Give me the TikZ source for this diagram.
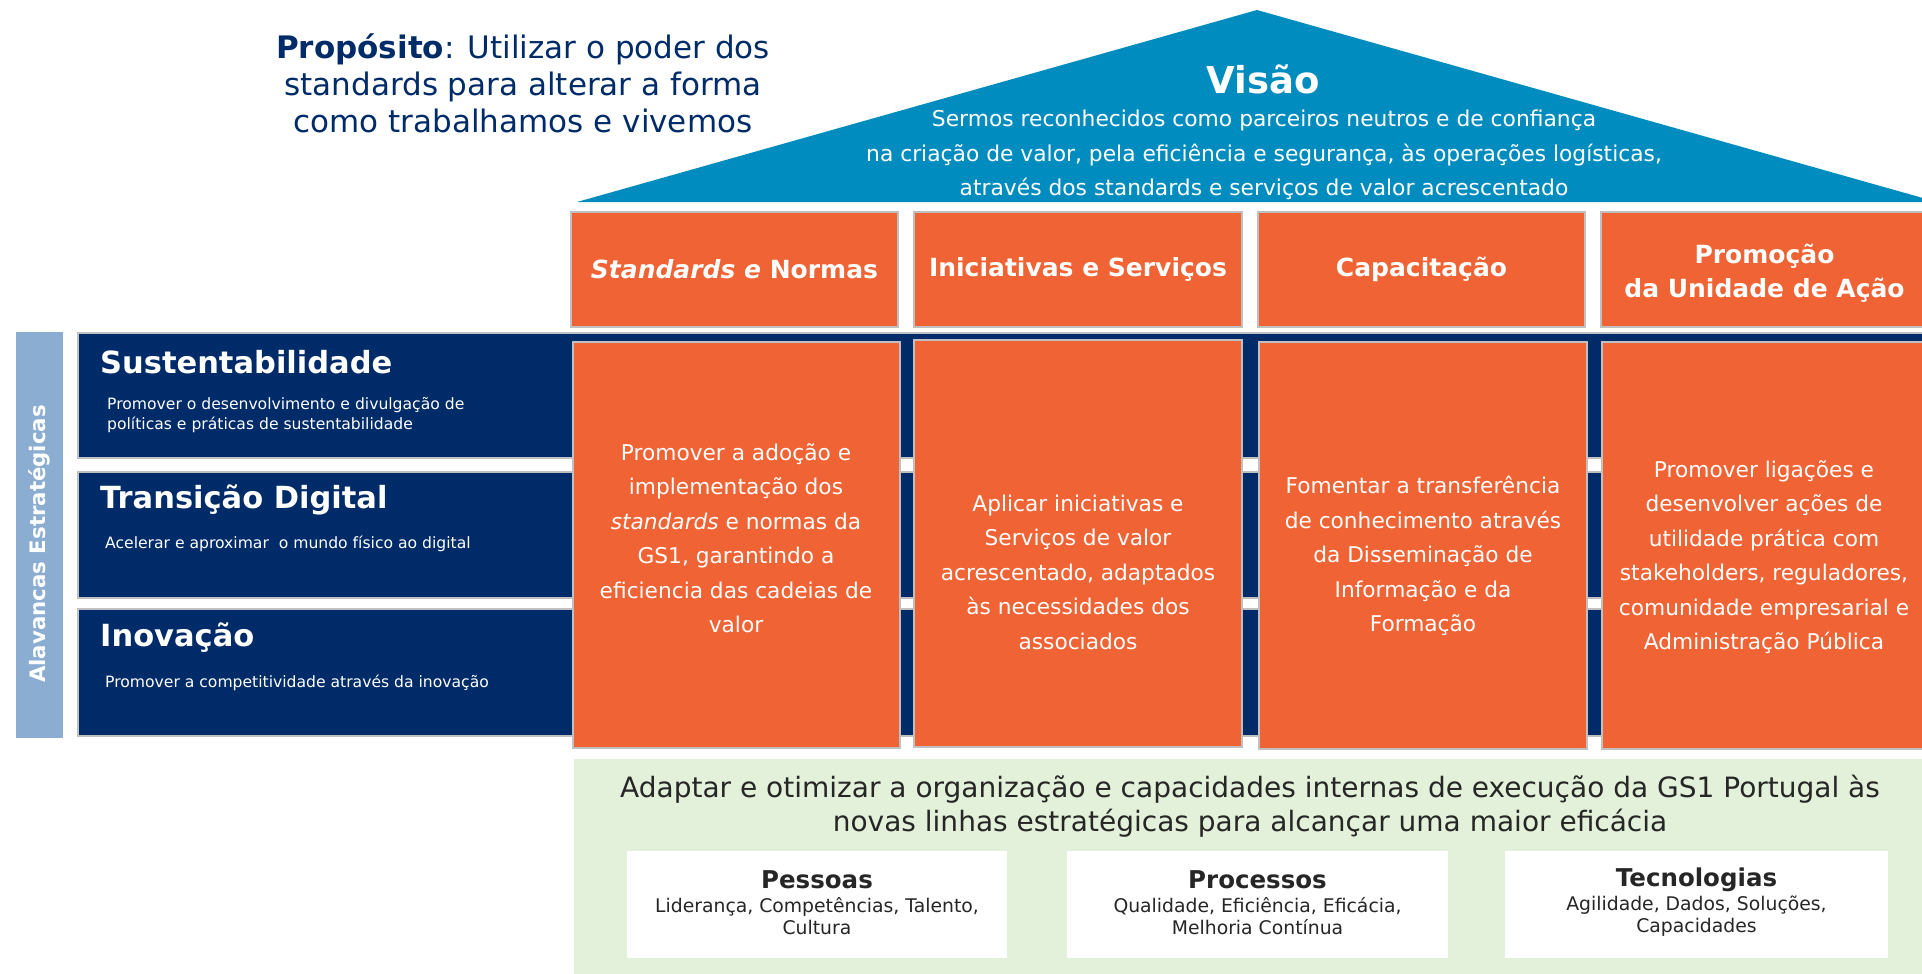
\documentclass[tikz,border=0pt]{standalone}
\usepackage{fontspec}
\setmainfont{DejaVu Sans}
\usepackage{xcolor}
\usepackage{tikz}

\definecolor{gsnavy}{RGB}{0,43,105}
\definecolor{gsorange}{RGB}{240,99,52}
\definecolor{gsblue}{RGB}{0,140,190}
\definecolor{gslight}{RGB}{139,173,210}
\definecolor{gsgreen}{RGB}{228,241,218}
\definecolor{gsedge}{RGB}{192,192,192}

\newcommand{\fsz}[2]{\fontsize{#1}{#2}\selectfont}

\begin{document}
\begin{tikzpicture}[x=1pt,y=-1pt,
    band/.style={fill=gsnavy,draw=gsedge,line width=1.5pt},
    pillar/.style={fill=gsorange,draw=gsedge,line width=1.5pt},
    card/.style={fill=white},
    lbl/.style={text=white,inner sep=0pt,align=center}]
        \useasboundingbox (0,0) rectangle (1922,974);

        % roof
        \coordinate (L) at (577,202);
        \coordinate (T) at (1257,10);
        \coordinate (R) at (1937,202);
        \fill[gsblue] (L) -- (T) -- (R) -- cycle;
        \node[lbl,font=\bfseries\fsz{37}{40}] (visao) at (1263,79) {Visão};
        \node[lbl,font=\fsz{21.8}{34.5}] (visaotxt) at (1264,155)
            {Sermos reconhecidos como parceiros neutros e de confiança\\
             na criação de valor, pela eficiência e segurança, às operações logísticas,\\
             através dos standards e serviços de valor acrescentado};

        \node[lbl,text=gsnavy,font=\fsz{31}{37}] (proposito) at (523,83)
            {{\bfseries Propósito}: Utilizar o poder dos\\
             standards para alterar a forma\\
             como trabalhamos e vivemos};

        % pilares (topo)
        \draw[pillar] (571,212) rectangle (898,327);
        \draw[pillar] (914,212) rectangle (1242,327);
        \draw[pillar] (1258,212) rectangle (1585,327);
        \draw[pillar] (1601,212) rectangle (1930,327);
        \node[lbl,font=\bfseries\fsz{25}{34}] (hd1) at (734.5,269.5) {\textit{Standards e} Normas};
        \node[lbl,font=\bfseries\fsz{25}{34}] (hd2) at (1078,269.5) {Iniciativas e Serviços};
        \node[lbl,font=\bfseries\fsz{25}{34}] (hd3) at (1421.5,269.5) {Capacitação};
        \node[lbl,font=\bfseries\fsz{25}{34}] (hd4) at (1764.5,273.5) {Promoção\\da Unidade de Ação};

        % alavancas
        \fill[gslight] (16,332) rectangle (63,738);
        \node[lbl,rotate=90,font=\bfseries\fsz{21.3}{24}] (alav) at (39.5,544) {Alavancas Estratégicas};
        \draw[band] (78,333) rectangle (1930,458);
        \draw[band] (78,472) rectangle (1930,598);
        \draw[band] (78,609) rectangle (1930,736);
        \node[lbl,anchor=west,font=\bfseries\fsz{30.5}{34}] (sust) at (100,362) {Sustentabilidade};
        \node[lbl,anchor=west,align=left,font=\fsz{15.6}{20}] (sustdesc) at (107,415)
            {Promover o desenvolvimento e divulgação de\\políticas e práticas de sustentabilidade};
        \node[lbl,anchor=west,font=\bfseries\fsz{30.5}{34}] (digi) at (100,500) {Transição Digital};
        \node[lbl,anchor=west,align=left,font=\fsz{15.6}{20}] (digidesc) at (105,544)
            {Acelerar e aproximar~ o mundo físico ao digital};
        \node[lbl,anchor=west,font=\bfseries\fsz{30.5}{34}] (inov) at (100,638) {Inovação};
        \node[lbl,anchor=west,align=left,font=\fsz{15.6}{20}] (inovdesc) at (105,683)
            {Promover a competitividade através da inovação};

        % pilares (corpo)
        \draw[pillar] (573,342) rectangle (900,748);
        \draw[pillar] (914,340) rectangle (1242,747);
        \draw[pillar] (1259,342) rectangle (1587,749);
        \draw[pillar] (1602,342) rectangle (1930,749);
        \node[lbl,font=\fsz{21.7}{34.5}] (txt1) at (736,538)
            {Promover a adoção e\\implementação dos\\\textit{standards} e normas da\\GS1, garantindo a\\eficiencia das cadeias de\\valor};
        \node[lbl,font=\fsz{21.7}{34.5}] (txt2) at (1078,572)
            {Aplicar iniciativas e\\Serviços de valor\\acrescentado, adaptados\\às necessidades dos\\associados};
        \node[lbl,font=\fsz{21.7}{34.5}] (txt3) at (1423,556)
            {Fomentar a transferência\\de conhecimento através\\da Disseminação de\\Informação e da\\Formação};
        \node[lbl,font=\fsz{21.7}{34.5}] (txt4) at (1764,557)
            {Promover ligações e\\desenvolver ações de\\utilidade prática com\\stakeholders, reguladores,\\comunidade empresarial e\\Administração Pública};

        % base
        \fill[gsgreen] (574,759) rectangle (1930,980);
        \node[lbl,text=black!85,font=\fsz{28}{34}] (base) at (1250,806)
            {Adaptar e otimizar a organização e capacidades internas de execução da GS1 Portugal às\\
             novas linhas estratégicas para alcançar uma maior eficácia};
        \fill[card] (627,851) rectangle (1007,958);
        \fill[card] (1067,851) rectangle (1448,958);
        \fill[card] (1505,851) rectangle (1888,958);
        \node[lbl,text=black!85,font=\bfseries\fsz{24.5}{28}] (pess) at (817,880) {Pessoas};
        \node[lbl,text=black!85,font=\fsz{18.8}{22}] (pesstxt) at (817,916) {Liderança, Competências, Talento,\\Cultura};
        \node[lbl,text=black!85,font=\bfseries\fsz{24.5}{28}] (proc) at (1257.5,880) {Processos};
        \node[lbl,text=black!85,font=\fsz{18.8}{22}] (proctxt) at (1257.5,916) {Qualidade, Eficiência, Eficácia,\\Melhoria Contínua};
        \node[lbl,text=black!85,font=\bfseries\fsz{24.5}{28}] (tecn) at (1696.5,880) {Tecnologias};
        \node[lbl,text=black!85,font=\fsz{18.8}{22}] (tecntxt) at (1696.5,916) {Agilidade, Dados, Soluções,\\Capacidades};

    \end{tikzpicture}
\end{document}
